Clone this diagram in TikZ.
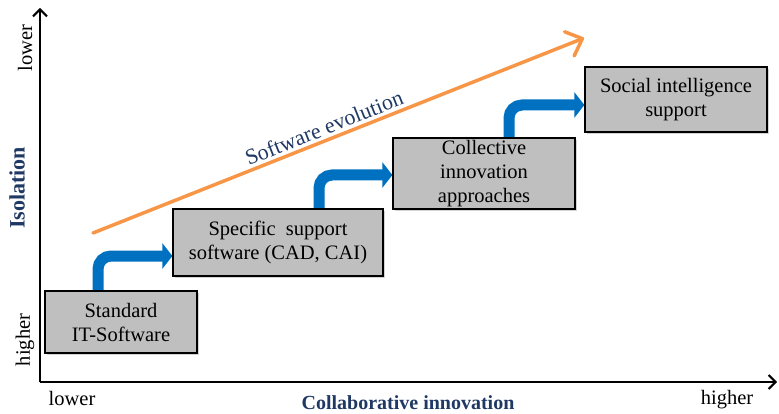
\documentclass[tikz,border=0pt]{standalone}
\usepackage{fontspec}
\setmainfont{Liberation Serif}
\usetikzlibrary{arrows.meta,shadows}
\pgfdeclarelayer{bg}
\pgfsetlayers{bg,main}
\definecolor{boxgray}{HTML}{BFBFBF}
\definecolor{stepblue}{HTML}{0070C0}
\definecolor{evorange}{HTML}{F79646}
\definecolor{labelblue}{HTML}{1F3864}
\tikzset{
  stagebox/.style={draw=black, line width=1.2pt, fill=boxgray, align=center,
    inner sep=0pt, font=\fontsize{20.5}{24}\selectfont,
    drop shadow={shadow xshift=2pt, shadow yshift=-2pt, opacity=0.35}},
  steparrow/.style={draw=stepblue, line width=11pt, rounded corners=13pt,
    -{Triangle[length=10pt,width=25pt]}},
  axisline/.style={draw=black, line width=2pt, -{Straight Barb[length=7pt,width=14pt,line width=2pt]}},
  evoline/.style={draw=evorange, line width=3.5pt, line cap=round,
    -{Straight Barb[length=14pt,width=26pt,line width=3.5pt,round]}},
  axislabel/.style={font=\fontsize{20.5}{24}\selectfont, inner sep=0pt},
  axistitle/.style={font=\fontsize{20}{24}\selectfont\bfseries, text=labelblue, inner sep=0pt},
}
\begin{document}
\begin{tikzpicture}[x=1pt,y=-1pt]
\useasboundingbox (0,0) rectangle (779,414);
% axes
\coordinate (origin) at (40,382);
\coordinate (ytip) at (40,8);
\coordinate (xtip) at (777,382);
\draw[axisline] (origin) -- (ytip);
\draw[axisline] (origin) -- (xtip);
% axis labels
\node[axislabel, rotate=90] (ylow) at (25,48) {lower};
\node[axislabel, rotate=90] (yhigh) at (25,340) {higher};
\node[axistitle, rotate=90, font=\fontsize{22}{24}\selectfont\bfseries] (ytitle) at (17,188) {Isolation};
\node[axislabel] (xlow) at (72,398) {lower};
\node[axistitle] (xtitle) at (408,403) {Collaborative innovation};
\node[axislabel] (xhigh) at (727,400) {higher};
% boxes
\node[stagebox, minimum width=152pt, minimum height=62pt] (s1) at (121,322) {Standard\\IT-Software};
\node[stagebox, minimum width=210pt, minimum height=67pt] (s2) at (278,242.5) {Specific\ \ support\\software (CAD, CAI)};
\node[stagebox, minimum width=182pt, minimum height=71pt] (s3) at (484,173.5) {Collective\\innovation\\approaches};
\node[stagebox, minimum width=182pt, minimum height=65pt] (s4) at (676,99.5) {Social intelligence\\support};
% step arrows
\begin{pgfonlayer}{bg}
\draw[steparrow] ([xshift=-23pt]s1.north) |- ([yshift=-13.5pt]s2.west);
\draw[steparrow] ([xshift=41pt]s2.north) |- ([yshift=-1.5pt]s3.west);
\draw[steparrow] ([xshift=25pt]s3.north) |- ([yshift=-5.5pt]s4.west);
\end{pgfonlayer}
% evolution arrow
\coordinate (evs) at (93,233);
\coordinate (eve) at (584,38);
\draw[evoline] (evs) -- (eve)
  node[pos=0.48, sloped, above=3pt, inner sep=0pt, font=\fontsize{22}{24}\selectfont, text=labelblue] (evlabel) {Software evolution};
\end{tikzpicture}
\end{document}
